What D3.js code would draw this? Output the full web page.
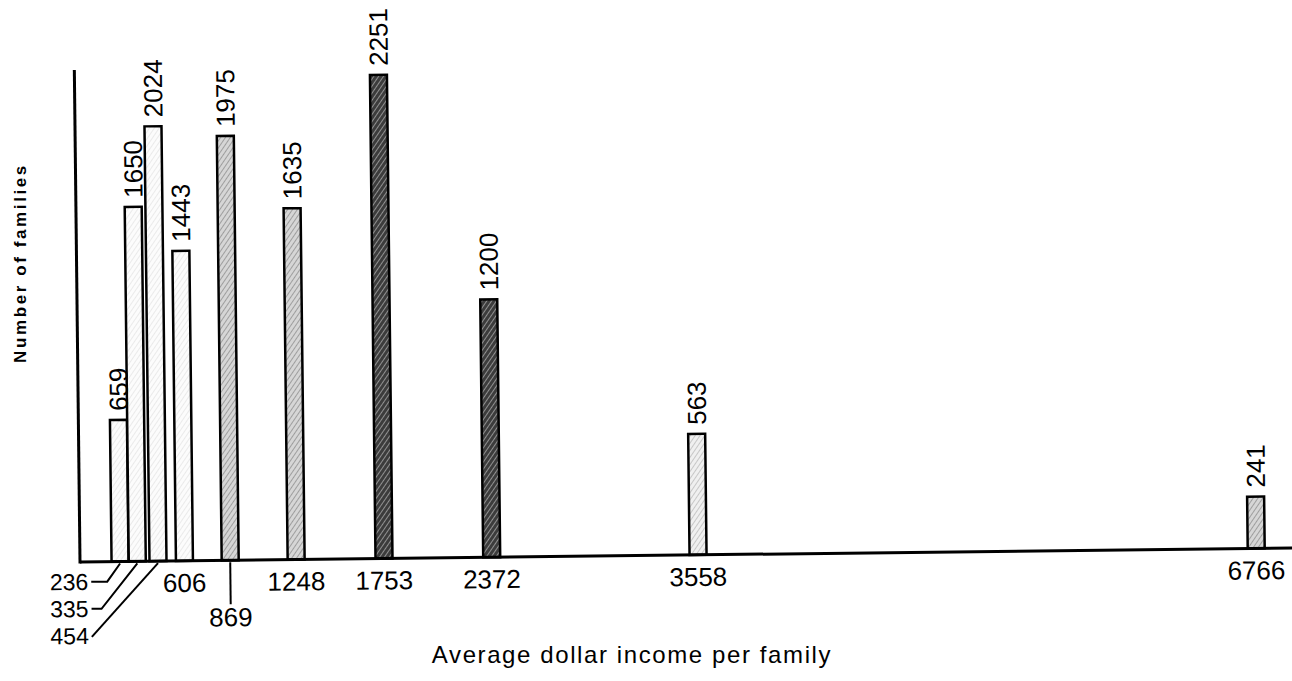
<!DOCTYPE html>
<html>
<head>
  <meta charset="UTF-8">
  <title>Average dollar income per family</title>
  <script src="https://d3js.org/d3.v7.min.js"></script>
  <style>
    body {
      margin: 0;
      background: #fff;
      font-family: "Liberation Sans", Arial, sans-serif;
    }
    .bar {
      stroke: #000;
      stroke-width: 2.5;
    }
    .axis-line {
      stroke: #000;
      stroke-width: 3;
    }
    .leader {
      stroke: #000;
      stroke-width: 2;
      fill: none;
    }
    .value-label, .tick-label {
      font-size: 26px;
      fill: #000;
    }
    .tick-label.small {
      font-size: 23px;
    }
  </style>
</head>
<body>
  <div id="chart"></div>
  <script>
    // income groups (average dollar income per family)
    const incomes = [236, 335, 454, 606, 869, 1248, 1753, 2372, 3558, 6766];
    // number of families in each group
    const families = [659, 1650, 2024, 1443, 1975, 1635, 2251, 1200, 563, 241];
    const tickLabels = ["236", "335", "454", "606", "869", "1248", "1753", "2372", "3558", "6766"];

    const width = 1292, height = 681;
    const base = 562;       // baseline y
    const axisX = 80;       // y axis x

    // shading of each bar (light stipple, medium hatch, dark hatch)
    const shadeOf = {236: "light", 335: "light", 454: "light", 606: "light", 869: "medium",
                     1248: "medium", 1753: "dark", 2372: "dark", 3558: "lightmed", 6766: "medium"};

    const x = d3.scaleLinear().domain([0, 7000]).range([79, 1297]);
    const y = d3.scaleLinear().domain([0, 2290]).range([base, 70]);
    const barW = 17;

    const data = incomes.map((d, i) => ({ income: d, n: families[i], label: tickLabels[i] }));

    const svg = d3.select("#chart").append("svg")
      .attr("width", width)
      .attr("height", height);

    // hatch patterns
    const defs = svg.append("defs");
    const patterns = [
      { id: "light", bg: "#fcfcfc", line: "#c0c0c0", w: 0.6 },
      { id: "lightmed", bg: "#f0f0f0", line: "#949494", w: 0.9 },
      { id: "medium", bg: "#d6d6d6", line: "#666", w: 1.0 },
      { id: "dark", bg: "#3c3c3c", line: "#d8d8d8", w: 1.1 }
    ];
    patterns.forEach(p => {
      const pat = defs.append("pattern")
        .attr("id", "pat-" + p.id)
        .attr("patternUnits", "userSpaceOnUse")
        .attr("width", 4).attr("height", 4)
        .attr("patternTransform", "rotate(35)");
      pat.append("rect").attr("width", 4).attr("height", 4).attr("fill", p.bg);
      pat.append("line").attr("x1", 0).attr("y1", 0).attr("x2", 0).attr("y2", 4)
        .attr("stroke", p.line).attr("stroke-width", p.w);
    });

    // the scanned original sits at a slight tilt
    const g = svg.append("g").attr("transform", `rotate(-0.66, ${axisX}, ${base})`);

    g.selectAll(".bar")
      .data(data)
      .enter()
      .append("rect")
      .attr("class", "bar")
      .attr("x", d => x(d.income) - barW / 2)
      .attr("y", d => y(d.n))
      .attr("width", barW)
      .attr("height", d => y(0) - y(d.n))
      .attr("fill", d => `url(#pat-${shadeOf[d.income]})`);

    // axes
    g.append("line").attr("class", "axis-line")
      .attr("x1", axisX).attr("y1", y(0) + 1.5)
      .attr("x2", axisX).attr("y2", y.range()[1]);
    g.append("line").attr("class", "axis-line")
      .attr("x1", axisX).attr("y1", y(0))
      .attr("x2", 1300).attr("y2", y(0));

    // value labels, rotated, above each bar
    g.selectAll(".value-label")
      .data(data)
      .enter()
      .append("text")
      .attr("class", "value-label")
      .attr("transform", d => `translate(${x(d.income) + 9.5}, ${y(d.n) - 9}) rotate(-90)`)
      .attr("text-anchor", "start")
      .text(d => d.n);

    // tick labels; the crowded ones at the left are pulled out with leaders
    const special = {
      236: { tx: 88, ty: 590, cls: "small", anchor: "end", leader: d => [[91, 582], [107, 582], [x(d), base + 2]] },
      335: { tx: 88, ty: 617, cls: "small", anchor: "end", leader: d => [[91, 609], [101, 609], [x(d), base + 2]] },
      454: { tx: 88, ty: 644, cls: "small", anchor: "end", leader: d => [[91, 637], [x(d), base + 2]] },
      869: { tx: null, ty: 628, cls: "", anchor: "middle", leader: d => [[x(d), base + 2], [x(d), 606]] }
    };

    data.forEach(d => {
      const s = special[d.income];
      const tx = s && s.tx !== null ? s.tx : x(d.income);
      const ty = s ? s.ty : base + 31;
      g.append("text")
        .attr("class", "tick-label " + (s ? s.cls : ""))
        .attr("x", tx)
        .attr("y", ty)
        .attr("text-anchor", s ? s.anchor : "middle")
        .text(d.label);
      if (s) {
        g.append("path")
          .attr("class", "leader")
          .attr("d", d3.line()(s.leader(d.income)));
      }
    });

    // axis titles
    svg.append("text")
      .attr("x", 632)
      .attr("y", 663)
      .attr("text-anchor", "middle")
      .style("font-size", "24px")
      .style("letter-spacing", "1.6px")
      .text("Average dollar income per family");

    svg.append("text")
      .attr("transform", "translate(26, 263) rotate(-90)")
      .attr("text-anchor", "middle")
      .style("font-size", "17px")
      .style("font-weight", "bold")
      .style("letter-spacing", "2.6px")
      .text("Number of families");
  </script>
</body>
</html>
